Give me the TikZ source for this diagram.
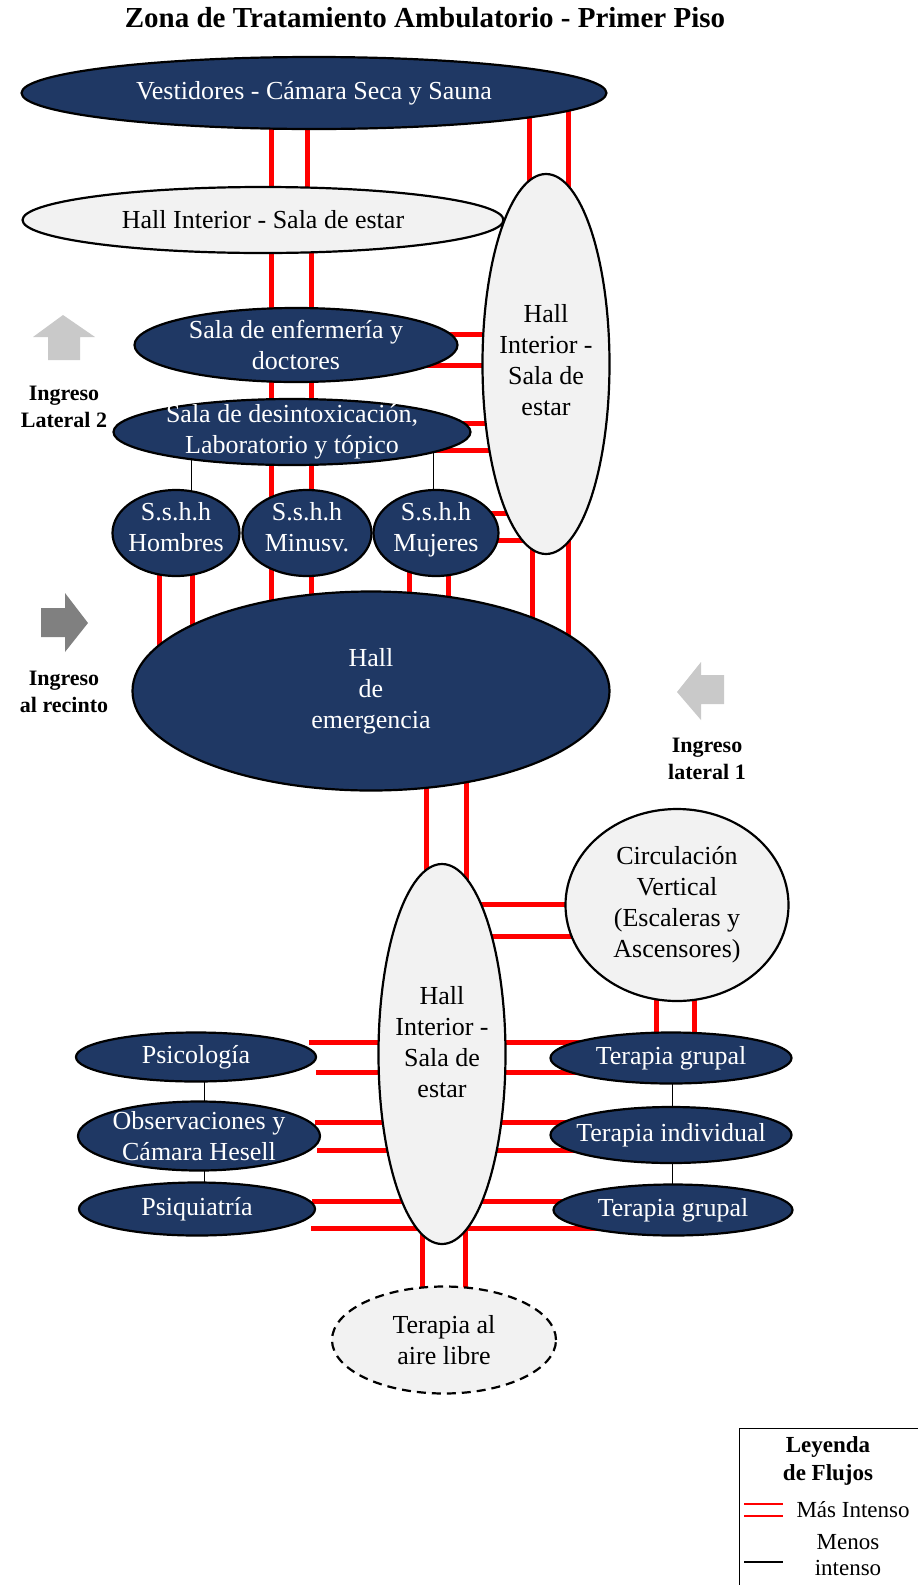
\documentclass[tikz,border=0pt]{standalone}
\usepackage{fontspec}
\setmainfont{Liberation Serif}
\usepackage{tikz}
\usetikzlibrary{shapes.geometric,backgrounds}
\definecolor{ZonaAzul}{HTML}{1F3864}
\definecolor{HallGris}{HTML}{F2F2F2}
\definecolor{IngresoClaro}{HTML}{C9C9C9}
\definecolor{IngresoOscuro}{HTML}{808080}

\begin{document}
\begin{tikzpicture}[
  x=1pt, y=-1pt,
  font=\fontsize{26}{31}\selectfont,
  zona/.style={ellipse, draw=black, line width=2.2pt, fill=ZonaAzul, text=white,
    inner sep=-10pt, align=center},
  hall/.style={ellipse, draw=black, line width=2.2pt, fill=HallGris,
    inner sep=-10pt, align=center},
  sshh/.style={zona, minimum height=86, text depth=12pt},
  ingreso/.style={font=\fontsize{22}{27}\selectfont\bfseries, align=center},
  flujo/.style={red, line width=5pt},
  flujomenor/.style={black, line width=1pt}
]
  \useasboundingbox (0,0) rectangle (918,1585);

  \node[font=\fontsize{29}{34}\selectfont\bfseries] (titulo) at (425,18)
    {Zona de Tratamiento Ambulatorio - Primer Piso};

  % planta superior
  \node[zona, minimum width=585, minimum height=72] (vest) at (314,93)
    {Vestidores - Cámara Seca y Sauna};
  \node[hall, minimum width=481, minimum height=66] (hallA) at (263,220)
    {Hall Interior - Sala de estar};
  \node[hall, minimum width=127, minimum height=380, text depth=8pt] (hallB) at (546,364)
    {Hall\\Interior -\\Sala de\\estar};
  \node[zona, minimum width=323, minimum height=74] (enf) at (296,345)
    {Sala de enfermería y\\doctores};
  \node[zona, minimum width=357, minimum height=66] (desin) at (292,432)
    {Sala de desintoxicación,\\Laboratorio y tópico};
  \node[sshh, minimum width=127] (hom) at (176,533) {S.s.h.h\\Hombres};
  \node[sshh, minimum width=129] (minus) at (307,533) {S.s.h.h\\Minusv.};
  \node[sshh, minimum width=125] (muj) at (436,533) {S.s.h.h\\Mujeres};
  \node[zona, minimum width=477, minimum height=199] (emer) at (371,691)
    {Hall\\de\\emergencia};

  % planta inferior
  \node[hall, minimum width=127, minimum height=380, text depth=24pt] (hallC) at (442,1054)
    {Hall\\Interior -\\Sala de\\estar};
  \node[hall, minimum width=223, minimum height=192] (circ) at (677,905)
    {Circulación\\Vertical\\(Escaleras y\\Ascensores)};
  \node[zona, minimum width=240, minimum height=49] (psico) at (196,1057) {Psicología};
  \node[zona, minimum width=242, minimum height=69] (obs) at (199,1136)
    {Observaciones y\\Cámara Hesell};
  \node[zona, minimum width=236, minimum height=53] (psiq) at (197,1209) {Psiquiatría};
  \node[zona, minimum width=241, minimum height=51] (tgA) at (671,1058) {Terapia grupal};
  \node[zona, minimum width=241, minimum height=56] (tind) at (671,1135) {Terapia individual};
  \node[zona, minimum width=239, minimum height=51] (tgB) at (673,1210) {Terapia grupal};
  \node[hall, dashed, dash pattern=on 9pt off 6pt, minimum width=224, minimum height=107]
    (aire) at (444,1340) {Terapia al\\aire libre};

  % ingresos
  \fill[IngresoClaro] (48,360) -- (48,337) -- (33,337) -- (63,315) -- (95,337)
    -- (80,337) -- (80,360) -- cycle;
  \node[ingreso] (ingL2) at (64,407) {Ingreso\\Lateral 2};
  \fill[IngresoOscuro] (41,608) -- (65,608) -- (65,593) -- (88,623) -- (65,652)
    -- (65,637) -- (41,637) -- cycle;
  \node[ingreso] (ingRec) at (64,692) {Ingreso\\al recinto};
  \fill[IngresoClaro] (724,675) -- (701,675) -- (701,662) -- (677,692) -- (701,720)
    -- (701,704) -- (724,704) -- cycle;
  \node[ingreso] (ingL1) at (707,759) {Ingreso\\lateral 1};

  % flujos
  \begin{scope}[on background layer]
    \foreach \dv/\dh in {-43/8, -7/44}
      \draw[flujo] ([xshift=\dv pt]vest.center) -- ([xshift=\dh pt]hallA.center);
    \foreach \dv/\dh in {215/-17, 254/22}
      \draw[flujo] ([xshift=\dv pt]vest.center) -- ([xshift=\dh pt]hallB.center);
    \foreach \dh/\de in {8/-25, 48/15}
      \draw[flujo] ([xshift=\dh pt]hallA.center) -- ([xshift=\de pt]enf.center);
    \foreach \de/\dd in {-25/-21, 15/19}
      \draw[flujo] ([xshift=\de pt]enf.center) -- ([xshift=\dd pt]desin.center);
    \foreach \dd/\dm in {-21/-36, 19/4}
      \draw[flujo] ([xshift=\dd pt]desin.center) -- ([xshift=\dm pt]minus.center);
    \foreach \dm/\de in {-36/-100, 4/-60}
      \draw[flujo] ([xshift=\dm pt]minus.center) -- ([xshift=\de pt]emer.center);
    \foreach \dm/\de in {-17/-212, 16/-179}
      \draw[flujo] ([xshift=\dm pt]hom.center) -- ([xshift=\de pt]emer.center);
    \foreach \dm/\de in {-27/38, 12/77}
      \draw[flujo] ([xshift=\dm pt]muj.center) -- ([xshift=\de pt]emer.center);
    \foreach \dh/\de in {-14/161, 22/197}
      \draw[flujo] ([xshift=\dh pt]hallB.center) -- ([xshift=\de pt]emer.center);
    \foreach \da/\dh in {11/30, -20/-1}
      \draw[flujo] ([yshift=\da pt]enf.center) -- ([yshift=\dh pt]hallB.center);
    \foreach \da/\dh in {9/-59, -18/-86}
      \draw[flujo] ([yshift=\da pt]desin.center) -- ([yshift=\dh pt]hallB.center);
    \foreach \da/\dh in {20/-149, -7/-176}
      \draw[flujo] ([yshift=\da pt]muj.center) -- ([yshift=\dh pt]hallB.center);
    \foreach \de/\dh in {55/-16, 95/24}
      \draw[flujo] ([xshift=\de pt]emer.center) -- ([xshift=\dh pt]hallC.center);
    \foreach \dh/\dc in {150/1, 118/-31}
      \draw[flujo] ([yshift=\dh pt]hallC.center) -- ([yshift=\dc pt]circ.center);
    \foreach \dc/\dt in {-21/-15, 17/23}
      \draw[flujo] ([xshift=\dc pt]circ.center) -- ([xshift=\dt pt]tgA.center);
    \foreach \dx/\da/\dh in {113/15/12, 120/-15/-18}
      \draw[flujo] ([xshift=\dx pt, yshift=\da pt]psico.center) -- ([yshift=\dh pt]hallC.center);
    \foreach \dx/\da/\dh in {116/14/-68, 118/-14/-96}
      \draw[flujo] ([xshift=\dx pt, yshift=\da pt]obs.center) -- ([yshift=\dh pt]hallC.center);
    \foreach \dx/\da/\dh in {115/8/-147, 114/-19/-174}
      \draw[flujo] ([xshift=\dx pt, yshift=\da pt]psiq.center) -- ([yshift=\dh pt]hallC.center);
    \foreach \dh/\dt in {12/16, -18/-14}
      \draw[flujo] ([yshift=\dh pt]hallC.center) -- ([yshift=\dt pt]tgA.center);
    \foreach \dh/\dt in {-68/13, -96/-15}
      \draw[flujo] ([yshift=\dh pt]hallC.center) -- ([yshift=\dt pt]tind.center);
    \foreach \dh/\dt in {-147/9, -174/-18}
      \draw[flujo] ([yshift=\dh pt]hallC.center) -- ([yshift=\dt pt]tgB.center);
    \foreach \dh/\da in {-20/-22, 23/21}
      \draw[flujo] ([xshift=\dh pt]hallC.center) -- ([xshift=\da pt]aire.center);
    % flujos menos intensos
    \draw[flujomenor] ([xshift=-101pt]desin.center) -- ([xshift=15pt]hom.center);
    \draw[flujomenor] ([xshift=141pt]desin.center) -- ([xshift=-3pt]muj.center);
    \draw[flujomenor] ([xshift=8pt]psico.center) -- ([xshift=5pt]obs.center);
    \draw[flujomenor] ([xshift=5pt]obs.center) -- ([xshift=7pt]psiq.center);
    \draw[flujomenor] ([xshift=1pt]tgA.center) -- ([xshift=1pt]tind.center);
    \draw[flujomenor] ([xshift=1pt]tind.center) -- ([xshift=-1pt]tgB.center);
  \end{scope}

  % leyenda
  \draw[line width=1pt] (739,1428) rectangle (940,1610);
  \node[font=\fontsize{23}{28}\selectfont\bfseries, align=center] (leyTit) at (828,1461)
    {Leyenda\\de Flujos};
  \coordinate (masA) at (744,1504);
  \coordinate (masB) at (783,1504);
  \coordinate (masC) at (744,1516);
  \coordinate (masD) at (783,1516);
  \coordinate (menA) at (744,1562);
  \coordinate (menB) at (783,1562);
  \draw[red, line width=1.5pt] (masA) -- (masB) (masC) -- (masD);
  \draw[black, line width=1.5pt] (menA) -- (menB);
  \node[font=\fontsize{23}{26}\selectfont, anchor=west] (ledMas) at (793,1510) {Más Intenso};
  \node[font=\fontsize{23}{26}\selectfont, align=center] (ledMen) at (848,1555)
    {Menos\\intenso};
\end{tikzpicture}
\end{document}
